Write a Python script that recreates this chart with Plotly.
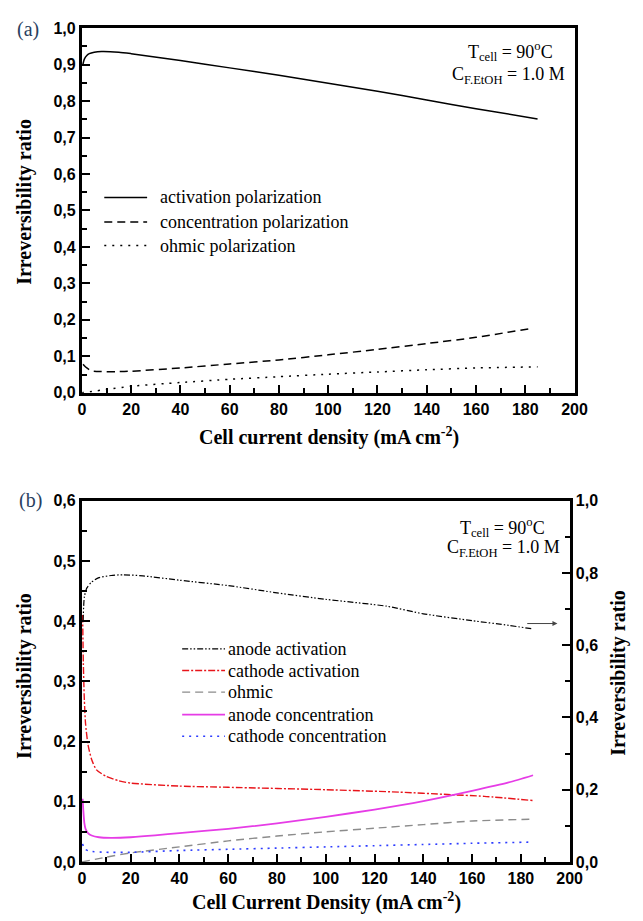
import plotly.graph_objects as go

# ---------------- panel (a): share of each polarization loss ----------------
a_act_x = [0.4, 1, 2, 3, 5, 8, 15, 20, 40, 60, 80, 100, 120, 140, 160, 185]
a_act_y = [0.900, 0.915, 0.925, 0.930, 0.934, 0.936, 0.934, 0.930, 0.911, 0.891, 0.871, 0.849, 0.827, 0.803, 0.779, 0.751]

a_conc_x = [0.5, 1, 2, 4, 8, 14, 20, 40, 60, 80, 100, 120, 140, 160, 182]
a_conc_y = [0.078, 0.074, 0.068, 0.060, 0.058, 0.058, 0.059, 0.068, 0.079, 0.090, 0.104, 0.119, 0.135, 0.152, 0.176]

a_ohm_x = [0, 10, 20, 40, 60, 80, 100, 120, 140, 160, 185]
a_ohm_y = [0.0, 0.009, 0.018, 0.028, 0.037, 0.044, 0.051, 0.057, 0.063, 0.068, 0.071]

# ---------------- panel (b): electrode-resolved losses ----------------
# anode activation is read on the right-hand axis
b_aact_x = [0.5, 1, 2, 4, 7, 12, 17, 25, 40, 60, 80, 100, 125, 140, 160, 175, 185]
b_aact_y = [0.667, 0.733, 0.758, 0.775, 0.787, 0.793, 0.795, 0.792, 0.780, 0.765, 0.745, 0.727, 0.708, 0.687, 0.668, 0.655, 0.645]

b_cact_x = [0.3, 0.6, 1, 1.5, 2.5, 4, 6, 10, 15, 20, 40, 60, 100, 130, 150, 165, 185]
b_cact_y = [0.410, 0.330, 0.270, 0.230, 0.195, 0.170, 0.153, 0.142, 0.135, 0.131, 0.126, 0.124, 0.120, 0.116, 0.112, 0.109, 0.102]

b_ohm_x = [0, 10, 20, 40, 60, 80, 100, 120, 140, 160, 185]
b_ohm_y = [0.0, 0.008, 0.015, 0.025, 0.035, 0.043, 0.050, 0.056, 0.062, 0.068, 0.071]

b_aconc_x = [0.3, 0.6, 1, 1.5, 2.5, 4, 7, 12, 20, 30, 40, 60, 80, 100, 120, 140, 160, 175, 185]
b_aconc_y = [0.105, 0.085, 0.065, 0.055, 0.048, 0.044, 0.041, 0.040, 0.041, 0.044, 0.048, 0.055, 0.064, 0.075, 0.087, 0.101, 0.118, 0.132, 0.144]

b_cconc_x = [0.3, 1, 3, 10, 20, 40, 60, 80, 100, 120, 140, 160, 185]
b_cconc_y = [0.030, 0.022, 0.018, 0.016, 0.016, 0.019, 0.021, 0.023, 0.025, 0.027, 0.029, 0.031, 0.033]

W, H = 643, 921
SANS = "Liberation Sans, Arial"
SERIF = "Liberation Serif, Times New Roman"
TICK_FONT = dict(family=SANS, size=16, color="black", weight="bold")


def px_x(p):
    return p / W


def px_y(p):
    return 1 - p / H


# series: (name, x, y, xaxis, yaxis, line style, legend row y in px)
series_a = [
    ("activation polarization", a_act_x, a_act_y, "x", "y",
     dict(color="black", width=1.5), 193),
    ("concentration polarization", a_conc_x, a_conc_y, "x", "y",
     dict(color="black", width=1.5, dash="8px,5px"), 218),
    ("ohmic polarization", a_ohm_x, a_ohm_y, "x", "y",
     dict(color="black", width=1.5, dash="2px,6px"), 242),
]
series_b = [
    ("anode activation", b_aact_x, b_aact_y, "x2", "y3",
     dict(color="black", width=1.2, dash="6px,2px,1.5px,2px,1.5px,2px"), 653),
    ("cathode activation", b_cact_x, b_cact_y, "x2", "y2",
     dict(color="#e8141a", width=1.4, dash="7px,2px,2px,2px"), 675),
    ("ohmic", b_ohm_x, b_ohm_y, "x2", "y2",
     dict(color="#8c8c8c", width=1.4, dash="8px,5px"), 697),
    ("anode concentration", b_aconc_x, b_aconc_y, "x2", "y2",
     dict(color="#e63ce6", width=1.8), 720),
    ("cathode concentration", b_cconc_x, b_cconc_y, "x2", "y2",
     dict(color="#2d3cff", width=1.6, dash="2px,5px"), 742),
]

fig = go.Figure()
for name, xs, ys, xa, ya, style, _ in series_a + series_b:
    fig.add_trace(go.Scatter(x=xs, y=ys, mode="lines", name=name,
                             line=dict(shape="spline", smoothing=0.6, **style),
                             xaxis=xa, yaxis=ya, showlegend=False))


def frame_axis(**kw):
    base = dict(showline=True, linewidth=3, linecolor="black", mirror=True, showgrid=False,
                zeroline=False, ticks="inside", ticklen=8, tickwidth=2, tickcolor="black",
                tickfont=TICK_FONT, minor=dict(ticks="inside", ticklen=5, tickwidth=2, tickcolor="black"))
    base.update(kw)
    return base


fig.update_layout(
    width=W, height=H, autosize=False,
    margin=dict(l=0, r=0, t=0, b=0),
    paper_bgcolor="white", plot_bgcolor="white",
    separators=", ",
    showlegend=False,
    xaxis=frame_axis(domain=[px_x(80), px_x(586)], anchor="y", range=[0, 200], dtick=20,
                     minor_dtick=10),
    yaxis=frame_axis(domain=[px_y(392), px_y(20.5)], anchor="x", range=[0, 1.0], dtick=0.1,
                     tickformat=".1f", minor_dtick=0.05),
    xaxis2=frame_axis(domain=[px_x(80), px_x(581)], anchor="y2", range=[0, 200], dtick=20,
                      minor_dtick=10),
    yaxis2=frame_axis(domain=[px_y(870), px_y(502)], anchor="x2", range=[0, 0.6], dtick=0.1,
                      tickformat=".1f", minor_dtick=0.05, mirror=False),
    yaxis3=frame_axis(overlaying="y2", side="right", anchor="x2", range=[0, 1.0], dtick=0.2,
                      tickformat=".1f", minor_dtick=0.1, mirror=False),
)

# hand-placed legends: a line sample followed by the series name
shapes = []
annotations = []
legend_font = dict(family=SERIF, size=18, color="black")
for rows, x0, x1, xt in ((series_a, 103, 147, 158), (series_b, 183, 227, 228)):
    for name, _, _, _, _, style, ry in rows:
        shapes.append(dict(type="line", xref="paper", yref="paper",
                           x0=px_x(x0), x1=px_x(x1), y0=px_y(ry), y1=px_y(ry), line=style))
        annotations.append(dict(text=name, x=px_x(xt), y=px_y(ry), xanchor="left", yanchor="middle",
                                font=legend_font))

ann_font = dict(family=SERIF, size=18, color="black")
title_font = dict(family=SERIF, size=20, color="black", weight="bold")
annotations += [
    dict(text="(a)", x=px_x(11), y=px_y(22), xanchor="left", yanchor="middle", font=dict(family=SERIF, size=20)),
    dict(text="(b)", x=px_x(13), y=px_y(502), xanchor="left", yanchor="middle", font=dict(family=SERIF, size=20)),
    dict(text="T<sub>cell</sub> = 90<sup>o</sup>C", x=px_x(566), y=px_y(44), xanchor="right", yanchor="middle", font=ann_font),
    dict(text="C<sub>F.EtOH</sub> = 1.0 M", x=px_x(578), y=px_y(69), xanchor="right", yanchor="middle", font=ann_font),
    dict(text="T<sub>cell</sub> = 90<sup>o</sup>C", x=px_x(558), y=px_y(529), xanchor="right", yanchor="middle", font=ann_font),
    dict(text="C<sub>F.EtOH</sub> = 1.0 M", x=px_x(573), y=px_y(551), xanchor="right", yanchor="middle", font=ann_font),
    dict(text="Irreversibility ratio", x=px_x(21), y=px_y(197), textangle=-90, xanchor="center", yanchor="middle", font=title_font),
    dict(text="Irreversibility ratio", x=px_x(21), y=px_y(680), textangle=-90, xanchor="center", yanchor="middle", font=title_font),
    dict(text="Irreversibility ratio", x=px_x(631), y=px_y(677), textangle=-90, xanchor="center", yanchor="middle", font=title_font),
    dict(text="Cell current density (mA cm<sup>-2</sup>)", x=px_x(334), y=px_y(437), xanchor="center", yanchor="middle", font=title_font),
    dict(text="Cell Current Density (mA cm<sup>-2</sup>)", x=px_x(331), y=px_y(910), xanchor="center", yanchor="middle", font=title_font),
]
for a in annotations:
    a.update(xref="paper", yref="paper", showarrow=False)

# arrow marking the anode-activation curve as read on the right axis
annotations.append(dict(x=195, y=0.66, ax=182, ay=0.66, xref="x2", yref="y3", axref="x2", ayref="y3",
                        showarrow=True, arrowhead=2, arrowsize=1, arrowwidth=1, arrowcolor="#444", text=""))
fig.update_layout(annotations=annotations, shapes=shapes)

fig.write_html("out.html")
